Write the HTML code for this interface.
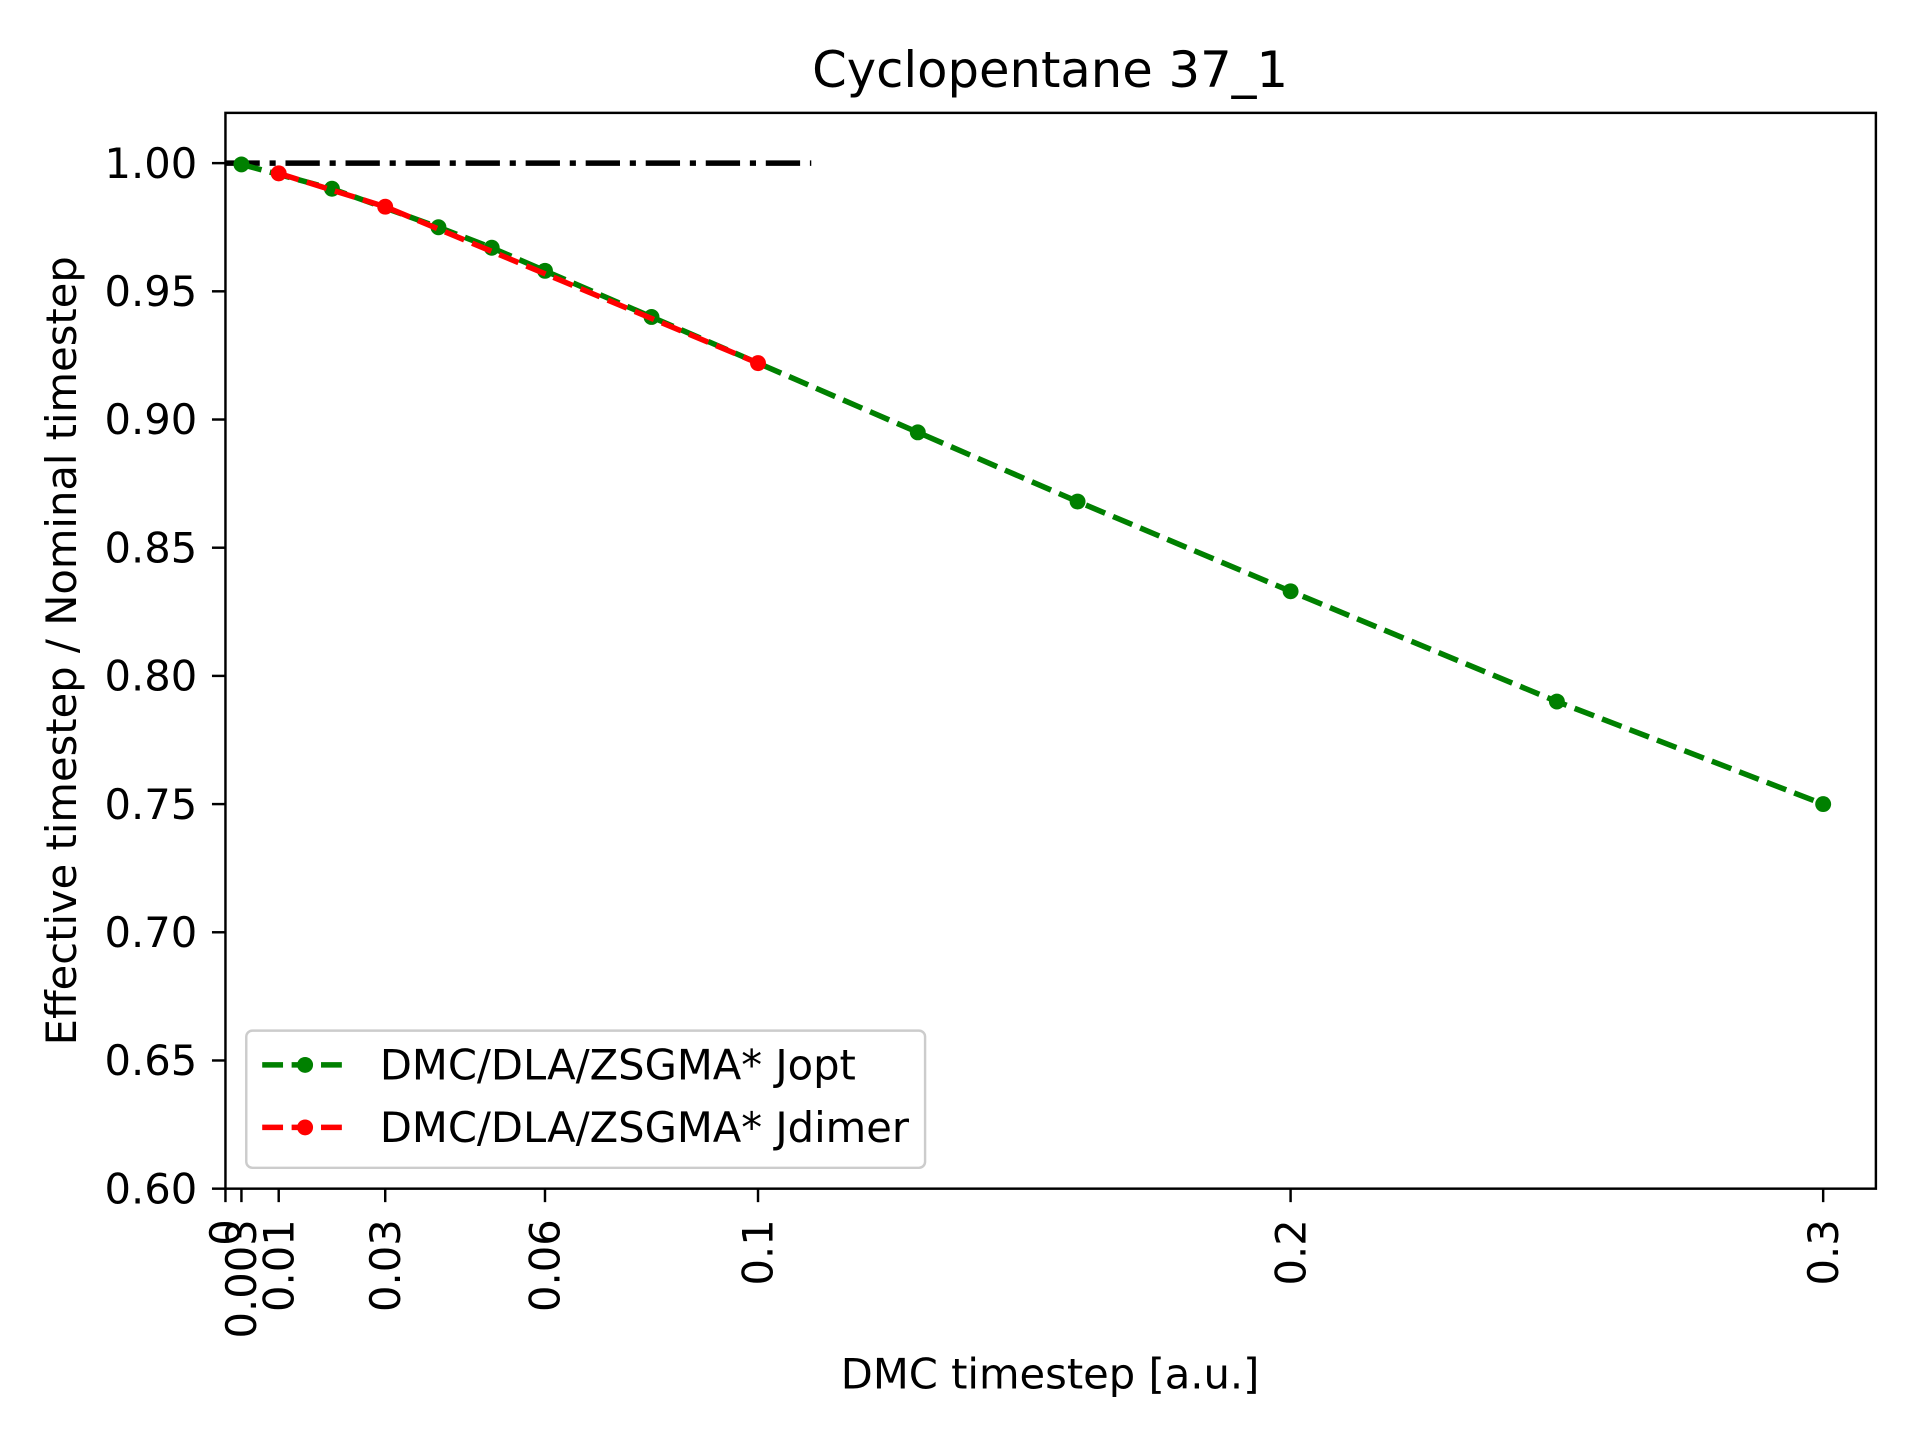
<!DOCTYPE html>
<html><head><meta charset="utf-8"><style>
html,body{margin:0;padding:0;background:#fff;}
svg{display:block;}
text{font-family:"DejaVu Sans","Liberation Sans",sans-serif;fill:#000;}
</style></head><body>
<svg id="chart" width="1920" height="1440" viewBox="0 0 1567 1175" xmlns="http://www.w3.org/2000/svg">
<rect x="0" y="0" width="1567" height="1175" fill="#fff"/>
<text x="857" y="71" font-size="40.5" text-anchor="middle">Cyclopentane 37_1</text>
<g id="plot"></g>
<g id="axes"></g>
<text x="857" y="1133" font-size="34" text-anchor="middle">DMC timestep [a.u.]</text>
<text transform="translate(62,531) rotate(-90)" font-size="34" text-anchor="middle">Effective timestep / Nominal timestep</text>
<g>
<rect x="201" y="841" width="554" height="112" rx="5" fill="#fff" stroke="#ccc" stroke-width="2"/>
<g>
<line x1="214" y1="869" x2="284" y2="869" stroke="green" stroke-width="4.5" stroke-dasharray="17,7"/>
<circle cx="249" cy="869" r="6.5" fill="green"/>
<text x="310" y="881" font-size="34">DMC/DLA/ZSGMA* Jopt</text>
</g>
<g>
<line x1="214" y1="920" x2="284" y2="920" stroke="red" stroke-width="4.5" stroke-dasharray="17,7"/>
<circle cx="249" cy="920" r="6.5" fill="red"/>
<text x="310" y="932" font-size="34">DMC/DLA/ZSGMA* Jdimer</text>
</g>
</g>
</svg>
<script>
const greenX = [0.003,0.02,0.04,0.05,0.06,0.08,0.13,0.16,0.2,0.25,0.3];
const greenY = [0.9995,0.990,0.975,0.967,0.958,0.940,0.895,0.868,0.833,0.790,0.750];
const redX = [0.01,0.03,0.1];
const redY = [0.996,0.983,0.922];
const refX = [0,0.11];
const refY = [1.0,1.0];
const xTicks = [0,0.003,0.01,0.03,0.06,0.1,0.2,0.3];
const xTickLabels = ["0","0.003","0.01","0.03","0.06","0.1","0.2","0.3"];
const yTicks = [0.60,0.65,0.70,0.75,0.80,0.85,0.90,0.95,1.00];
const yTickLabels = ["0.60","0.65","0.70","0.75","0.80","0.85","0.90","0.95","1.00"];

const L=184,R=1531,T=92,B=970;
const xmin=0,xmax=0.3099,ymin=0.6,ymax=1.0196;
const sx=v=>L+(v-xmin)/(xmax-xmin)*(R-L);
const sy=v=>B-(v-ymin)/(ymax-ymin)*(B-T);
const NS="http://www.w3.org/2000/svg";
const plot=document.getElementById('plot'), axes=document.getElementById('axes');
function mk(tag,attrs,parent){const e=document.createElementNS(NS,tag);for(const k in attrs)e.setAttribute(k,attrs[k]);parent.appendChild(e);return e;}

const ref=mk('polyline',{points:refX.map((x,i)=>sx(x)+','+sy(refY[i])).join(' '),fill:'none',stroke:'#000','stroke-width':4.5,'stroke-dasharray':'28,8,5,8'},plot);



function series(xs,ys,color,name){
  const g=mk('g',{},plot);
  
  
  const pl=mk('polyline',{points:xs.map((x,i)=>sx(x)+','+sy(ys[i])).join(' '),fill:'none',stroke:color,'stroke-width':4.5,'stroke-dasharray':'17,7'},g);
  
  
  xs.forEach((x,i)=>{
    const c=mk('circle',{cx:sx(x),cy:sy(ys[i]),r:6.5,fill:color},g);
    
    
  });
}
series(greenX,greenY,'green','series-jopt');
series(redX,redY,'red','series-jdimer');

const frame=mk('rect',{x:L,y:T,width:R-L,height:B-T,fill:'none',stroke:'#000','stroke-width':2},axes);



yTicks.forEach((v,i)=>{
  const y=sy(v);
  const t=mk('line',{x1:L-11,x2:L,y1:y,y2:y,stroke:'#000','stroke-width':2},axes);
  
  
  const tx=mk('text',{x:L-23,y:y+12,'font-size':34,'text-anchor':'end'},axes);
  tx.textContent=yTickLabels[i];
  
  
});
xTicks.forEach((v,i)=>{
  const x=sx(v);
  const t=mk('line',{x1:x,x2:x,y1:B,y2:B+11,stroke:'#000','stroke-width':2},axes);
  
  
  const tx=mk('text',{transform:'translate('+(x+12)+','+(B+25)+') rotate(-90)','font-size':34,'text-anchor':'end'},axes);
  tx.textContent=xTickLabels[i];
  
  
});
</script>
</body></html>
